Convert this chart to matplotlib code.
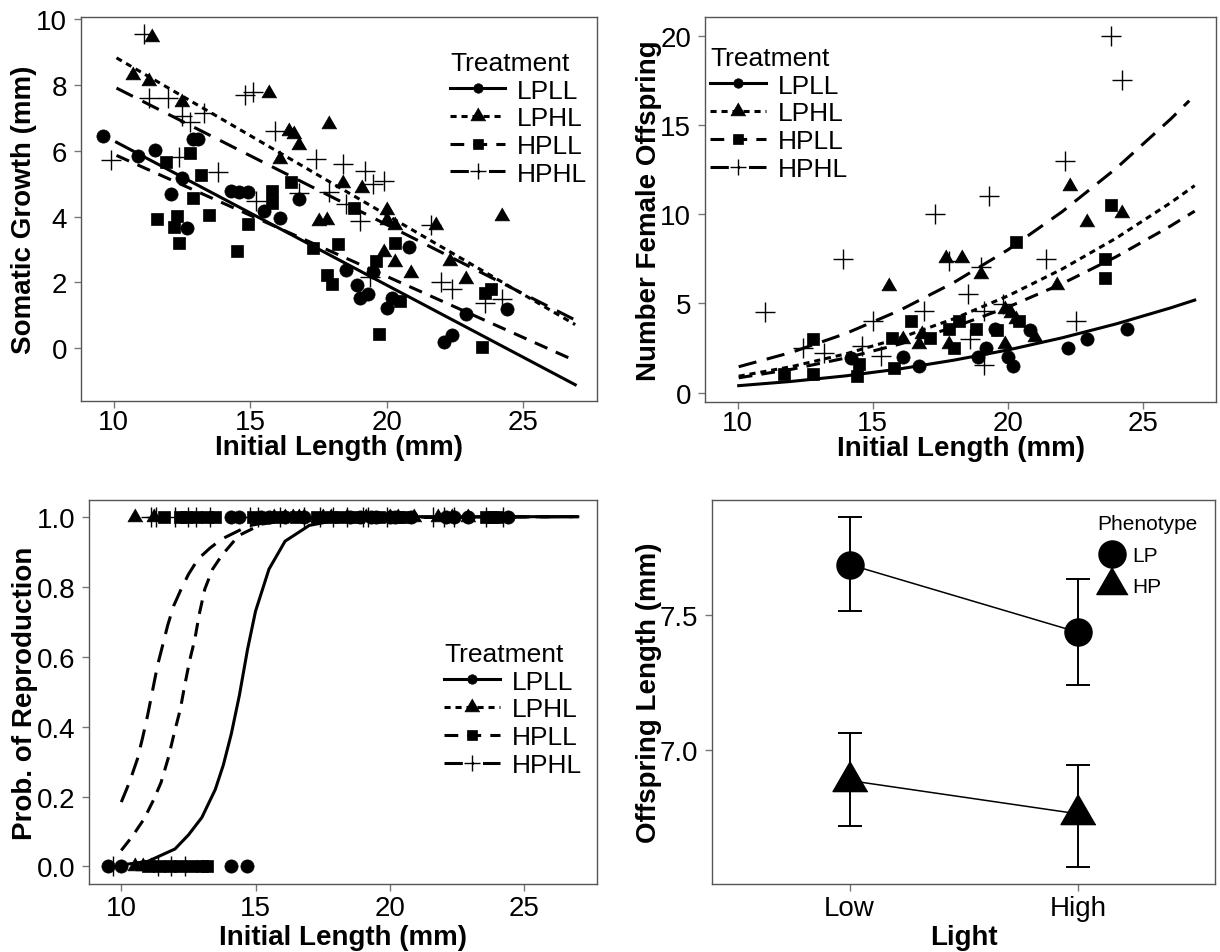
import matplotlib
matplotlib.use("Agg")
import matplotlib.pyplot as plt
from matplotlib.lines import Line2D

plt.rcParams['font.family'] = ['Liberation Sans', 'DejaVu Sans']

# ---------------- panel A : somatic growth ----------------
grow_lpll_x = [9.6, 10.9, 11.5, 12.1, 12.5, 12.7, 12.9, 13.1, 14.3, 14.6, 14.9, 15.5, 16.1,
               16.8, 18.5, 18.9, 19.0, 19.3, 19.5, 20.0, 20.2, 20.8, 22.1, 22.4, 22.9, 24.4]
grow_lpll_y = [6.44, 5.83, 6.01, 4.69, 5.18, 3.64, 6.35, 6.35, 4.77, 4.74, 4.74, 4.17, 3.96,
               4.52, 2.36, 1.93, 1.52, 1.65, 2.32, 1.22, 1.51, 3.07, 0.17, 0.38, 1.04, 1.19]
grow_lphl_x = [11.4, 10.7, 11.3, 12.5, 15.7, 16.4, 16.6, 16.8, 16.1, 17.9, 17.5, 17.8, 18.4,
               19.1, 20.0, 20.0, 19.9, 20.3, 20.3, 20.9, 21.8, 22.3, 22.9, 24.2]
grow_lphl_y = [9.46, 8.31, 8.14, 7.50, 7.76, 6.59, 6.52, 6.19, 5.74, 6.82, 3.85, 3.88, 5.02,
               4.86, 4.21, 3.88, 2.91, 3.73, 2.61, 2.27, 3.73, 2.66, 2.10, 4.03]
grow_hpll_x = [11.9, 12.8, 13.2, 12.9, 11.6, 12.3, 12.2, 12.4, 13.5, 14.5, 14.9, 15.8, 15.8,
               16.5, 17.3, 17.8, 18.0, 18.2, 18.8, 19.6, 19.7, 20.3, 20.5, 23.5, 23.6, 23.8]
grow_hpll_y = [5.65, 5.94, 5.25, 4.57, 3.93, 4.03, 3.68, 3.19, 4.05, 2.94, 3.78, 4.77, 4.42,
               5.05, 3.05, 2.22, 1.95, 3.17, 4.25, 2.64, 0.43, 3.19, 1.44, 0.02, 1.68, 1.80]
grow_hphl_x = [11.1, 9.9, 11.3, 12.0, 12.5, 12.8, 13.3, 12.4, 13.8, 14.8, 15.1, 15.2, 15.9,
               16.8, 17.4, 17.9, 18.4, 18.5, 19.0, 19.2, 19.5, 19.9, 21.6, 22.0, 22.4, 23.6,
               24.2, 19.4]
grow_hphl_y = [9.56, 5.73, 7.60, 7.60, 7.06, 6.89, 7.16, 5.81, 5.35, 7.69, 7.79, 4.46, 6.59,
               4.71, 5.74, 4.76, 5.60, 4.37, 3.85, 5.38, 4.99, 5.07, 3.73, 2.02, 1.80, 1.37,
               1.49, 2.15]
# fitted lines (end points)
grow_fit_x = [10.1, 26.9]
grow_fit_lpll = [6.26, -1.12]
grow_fit_lphl = [8.83, 0.71]
grow_fit_hpll = [5.86, -0.39]
grow_fit_hphl = [7.91, 0.85]

# ---------------- panel B : number of female offspring ----------------
off_lpll_x = [14.2, 16.1, 16.7, 19.2, 18.9, 20.0, 20.2, 19.5, 20.8, 22.2, 22.9, 24.4]
off_lpll_y = [1.96, 2.0, 1.5, 2.52, 2.02, 2.02, 1.5, 3.55, 3.5, 2.52, 3.03, 3.55]
off_lphl_x = [15.6, 17.7, 18.3, 19.0, 19.9, 20.1, 20.3, 21.8, 22.3, 22.9, 24.2, 21.0,
              19.9, 16.7, 16.1, 16.8, 17.8]
off_lphl_y = [5.98, 7.57, 7.57, 6.64, 4.67, 4.49, 4.11, 6.04, 11.59, 9.57, 10.09, 3.12,
              2.71, 2.71, 3.03, 3.27, 2.71]
off_hpll_x = [12.8, 11.7, 12.8, 14.4, 14.5, 15.8, 15.7, 16.4, 17.1, 17.8, 18.0, 18.2,
              18.8, 19.6, 20.3, 20.4, 23.6, 23.6, 23.8]
off_hpll_y = [2.99, 1.03, 1.03, 0.93, 1.59, 1.40, 3.05, 4.02, 3.08, 3.55, 2.52, 4.02,
              3.55, 3.51, 8.45, 4.02, 7.51, 6.45, 10.5]
off_hphl_x = [23.8, 24.2, 22.1, 19.3, 17.3, 13.9, 11.0, 21.4, 19.0, 18.5, 17.8, 19.8,
              19.1, 16.9, 15.0, 22.5, 12.4, 13.2, 14.6, 15.3, 18.6, 19.1]
off_hphl_y = [20.0, 17.5, 13.0, 11.0, 10.0, 7.5, 4.5, 7.5, 7.07, 5.55, 7.4, 4.99,
              4.58, 4.58, 4.02, 4.02, 2.52, 2.24, 2.62, 2.06, 2.99, 1.55]
off_fit_x = [10.04, 12, 14, 16, 18, 20, 22, 24, 26, 26.9]
off_fit_lpll = [0.40, 0.64, 0.95, 1.34, 1.83, 2.40, 3.08, 3.86, 4.75, 5.19]
off_fit_lphl = [0.93, 1.47, 2.18, 3.07, 4.15, 5.43, 6.93, 8.66, 10.63, 11.60]
off_fit_hpll = [0.84, 1.32, 1.95, 2.73, 3.68, 4.80, 6.11, 7.62, 9.33, 10.17]
off_fit_hphl_x = [10.04, 12, 14, 16, 18, 20, 22, 24, 26, 26.7]
off_fit_hphl = [1.46, 2.27, 3.32, 4.62, 6.18, 8.01, 10.14, 12.57, 15.31, 16.35]

# ---------------- panel C : probability of reproduction ----------------
rep_lpll_1 = [14.1, 14.4, 15.2, 15.5, 16.1, 16.8, 18.5, 18.9, 19.3, 19.5, 20.0, 20.2,
              20.8, 22.1, 22.4, 22.9, 24.4]
rep_lpll_0 = [9.5, 10.0, 14.1, 14.7]
rep_lphl_1 = [10.5, 11.2, 15.7, 16.1, 16.4, 16.6, 16.8, 17.5, 17.8, 18.4, 19.1, 20.0,
              20.3, 20.9, 21.8, 22.3, 22.9]
rep_lphl_0 = [10.5, 10.8, 11.1]
rep_hpll_1 = [11.6, 12.2, 12.4, 12.8, 13.2, 13.5, 14.9, 15.8, 16.5, 17.3, 17.8, 18.2,
              18.8, 19.6, 20.3, 20.5, 23.6, 23.8, 24.0]
rep_hpll_0 = [11.0, 11.4, 11.8, 12.2, 12.6, 13.0, 13.2]
rep_hphl_1 = [11.1, 11.3, 12.0, 12.5, 12.8, 13.3, 14.8, 15.1, 15.9, 16.8, 17.4, 17.9,
              18.4, 19.0, 19.2, 19.9, 21.6, 22.0, 22.4, 23.6, 24.2]
rep_hphl_0 = [9.7, 11.35, 11.85, 12.36]
rep_fit_lpll_x = [10.0, 11.0, 12.0, 12.5, 13.0, 13.5, 13.8, 14.1, 14.4, 14.7, 15.0,
                  15.5, 16.1, 17.0, 18.0, 20.0, 27.0]
rep_fit_lpll = [0.004, 0.015, 0.05, 0.09, 0.14, 0.22, 0.29, 0.38, 0.49, 0.62, 0.73,
                0.85, 0.93, 0.975, 0.99, 1.0, 1.0]
rep_fit_hpll_x = [10.0, 10.4, 10.85, 11.2, 11.48, 11.75, 11.98, 12.2, 12.36, 12.55, 12.74,
                  12.9, 13.11, 13.4, 13.74, 14.37, 15.24, 16.5, 18.0, 27.0]
rep_fit_hpll = [0.046, 0.085, 0.136, 0.19, 0.24, 0.31, 0.384, 0.45, 0.517, 0.59, 0.65,
                0.72, 0.793, 0.85, 0.889, 0.946, 0.979, 0.993, 0.998, 1.0]
rep_fit_hphl_x = [10.0, 10.3, 10.6, 10.8, 10.98, 11.17, 11.35, 11.55, 11.73, 11.95, 12.23,
                  12.5, 12.86, 13.3, 13.74, 14.74, 15.5, 17.0, 27.0]
rep_fit_hphl = [0.184, 0.24, 0.307, 0.37, 0.432, 0.505, 0.575, 0.635, 0.69, 0.745, 0.793,
                0.835, 0.879, 0.91, 0.936, 0.974, 0.985, 0.996, 1.0]

# ---------------- panel D : offspring length ----------------
light_levels = ['Low', 'High']
lp_mean = [7.685, 7.435]
lp_low = [7.512, 7.240]
lp_high = [7.860, 7.632]
hp_mean = [6.887, 6.764]
hp_low = [6.718, 6.569]
hp_high = [7.063, 6.945]

TRI = [(0, 0.577), (-0.5, -0.289), (0.5, -0.289)]
# curve line style, legend line style, marker, data marker size, legend marker size
STYLE = {
    'LPLL': dict(ls='-', lls='-', marker='o', ms=9.5, lms=6.8),
    'LPHL': dict(ls=(0, (2, 1.6)), lls=(0, (2, 1.6)), marker=TRI, ms=12.5, lms=12.5),
    'HPLL': dict(ls=(0, (4.5, 3)), lls=(0, (4.5, 3)), marker='s', ms=8.8, lms=7.2),
    'HPHL': dict(ls=(0, (6, 3.5)), lls=(0, (6, 3, 0.6, 3)), marker='+', ms=15, lms=12),
}
FS = 20
LFS = 19
LW = 2.2


def style_axes(ax, xpad):
    for s in ax.spines.values():
        s.set_color('#555555')
        s.set_linewidth(1.0)
    ax.tick_params(direction='out', length=5, width=1, color='#777777', labelsize=FS)
    ax.tick_params(axis='x', pad=xpad)
    ax.tick_params(axis='y', pad=5)


def points(ax, x, y, name):
    st = STYLE[name]
    mew = 1.0 if name == 'HPHL' else 0.5
    ax.plot(x, y, ls='none', marker=st['marker'], ms=st['ms'], color='black',
            mec='black', mew=mew)


def fit(ax, x, y, name):
    ax.plot(x, y, color='black', lw=LW, ls=STYLE[name]['ls'])


def treatment_legend(ax, anchor):
    handles = []
    for name in ['LPLL', 'LPHL', 'HPLL', 'HPHL']:
        st = STYLE[name]
        handles.append(Line2D([], [], color='black', lw=LW, ls=st['lls'],
                              marker=st['marker'], ms=st['lms'],
                              mew=1.0 if name == 'HPHL' else 0.5, label=name))
    ax.legend(handles=handles, title='Treatment', frameon=False, fontsize=LFS,
              title_fontsize=LFS, handlelength=2.1, handletextpad=0.45,
              labelspacing=0.14, borderpad=0, borderaxespad=0, alignment='left',
              numpoints=1, loc='upper left', bbox_to_anchor=anchor)


def length_axis(ax, label_y):
    ax.set_xlim(8.8, 27.7)
    ax.set_xticks([10, 15, 20, 25])
    ax.set_xlabel('Initial Length (mm)', fontsize=20, fontweight='bold')
    ax.xaxis.set_label_coords(0.5, label_y)


def main():
    fig = plt.figure(figsize=(12.2, 9.53), dpi=100)

    # panel A
    ax1 = fig.add_axes([0.0664, 0.578, 0.423, 0.403])
    fit(ax1, grow_fit_x, grow_fit_lpll, 'LPLL')
    fit(ax1, grow_fit_x, grow_fit_lphl, 'LPHL')
    fit(ax1, grow_fit_x, grow_fit_hpll, 'HPLL')
    fit(ax1, grow_fit_x, grow_fit_hphl, 'HPHL')
    points(ax1, grow_lpll_x, grow_lpll_y, 'LPLL')
    points(ax1, grow_lphl_x, grow_lphl_y, 'LPHL')
    points(ax1, grow_hpll_x, grow_hpll_y, 'HPLL')
    points(ax1, grow_hphl_x, grow_hphl_y, 'HPHL')
    length_axis(ax1, -0.086)
    ax1.set_ylim(-1.62, 10.07)
    ax1.set_yticks([0, 2, 4, 6, 8, 10])
    ax1.set_ylabel('Somatic Growth (mm)', fontsize=20, fontweight='bold')
    ax1.yaxis.set_label_coords(-0.085, 0.5)
    treatment_legend(ax1, (0.715, 0.912))
    style_axes(ax1, 1)

    # panel B
    ax2 = fig.add_axes([0.578, 0.577, 0.419, 0.404])
    fit(ax2, off_fit_x, off_fit_lpll, 'LPLL')
    fit(ax2, off_fit_x, off_fit_lphl, 'LPHL')
    fit(ax2, off_fit_x, off_fit_hpll, 'HPLL')
    fit(ax2, off_fit_hphl_x, off_fit_hphl, 'HPHL')
    points(ax2, off_lpll_x, off_lpll_y, 'LPLL')
    points(ax2, off_lphl_x, off_lphl_y, 'LPHL')
    points(ax2, off_hpll_x, off_hpll_y, 'HPLL')
    points(ax2, off_hphl_x, off_hphl_y, 'HPHL')
    length_axis(ax2, -0.086)
    ax2.set_ylim(-0.52, 21.03)
    ax2.set_yticks([0, 5, 10, 15, 20])
    ax2.set_ylabel('Number Female Offspring', fontsize=20, fontweight='bold')
    ax2.yaxis.set_label_coords(-0.085, 0.5)
    treatment_legend(ax2, (0.01, 0.925))
    style_axes(ax2, 1)

    # panel C
    ax3 = fig.add_axes([0.073, 0.0714, 0.416, 0.403])
    fit(ax3, rep_fit_lpll_x, rep_fit_lpll, 'LPLL')
    fit(ax3, rep_fit_hpll_x, rep_fit_hpll, 'HPLL')
    fit(ax3, rep_fit_hphl_x, rep_fit_hphl, 'HPHL')
    for name, ones, zeros in [('LPLL', rep_lpll_1, rep_lpll_0),
                              ('LPHL', rep_lphl_1, rep_lphl_0),
                              ('HPLL', rep_hpll_1, rep_hpll_0),
                              ('HPHL', rep_hphl_1, rep_hphl_0)]:
        points(ax3, ones, [1.0] * len(ones), name)
        points(ax3, zeros, [0.0] * len(zeros), name)
    length_axis(ax3, -0.103)
    ax3.set_ylim(-0.05, 1.048)
    ax3.set_yticks([0, 0.2, 0.4, 0.6, 0.8, 1.0])
    ax3.set_yticklabels(['0.0', '0.2', '0.4', '0.6', '0.8', '1.0'])
    ax3.set_ylabel('Prob. of Reproduction', fontsize=20, fontweight='bold')
    ax3.yaxis.set_label_coords(-0.1, 0.5)
    treatment_legend(ax3, (0.70, 0.63))
    style_axes(ax3, 3)

    # panel D
    ax4 = fig.add_axes([0.584, 0.0714, 0.412, 0.403])
    xs = [1, 2]
    ax4.errorbar(xs, lp_mean, yerr=[[m - l for m, l in zip(lp_mean, lp_low)],
                                    [h - m for m, h in zip(lp_mean, lp_high)]],
                 fmt='none', ecolor='black', elinewidth=1.4, capsize=8.3, capthick=1.4)
    ax4.errorbar(xs, hp_mean, yerr=[[m - l for m, l in zip(hp_mean, hp_low)],
                                    [h - m for m, h in zip(hp_mean, hp_high)]],
                 fmt='none', ecolor='black', elinewidth=1.4, capsize=8.3, capthick=1.4)
    ax4.plot(xs, lp_mean, color='black', lw=1.1, marker='o', ms=19.5, label='LP')
    ax4.plot(xs, hp_mean, color='black', lw=1.1, marker=TRI, ms=29, label='HP')
    ax4.set_xlim(0.4, 2.6)
    ax4.set_xticks(xs)
    ax4.set_xticklabels(light_levels)
    ax4.set_ylim(6.505, 7.924)
    ax4.set_yticks([7.0, 7.5])
    ax4.set_yticklabels(['7.0', '7.5'])
    ax4.set_xlabel('Light', fontsize=20, fontweight='bold')
    ax4.xaxis.set_label_coords(0.5, -0.103)
    ax4.set_ylabel('Offspring Length (mm)', fontsize=20, fontweight='bold')
    ax4.yaxis.set_label_coords(-0.1, 0.5)
    h = [Line2D([], [], ls='none', marker='o', ms=19.5, color='black', label='LP'),
         Line2D([], [], ls='none', marker=TRI, ms=26, color='black', label='HP')]
    ax4.legend(handles=h, title='Phenotype', frameon=False, fontsize=15, title_fontsize=15,
               loc='upper left', bbox_to_anchor=(0.765, 0.962), handletextpad=0.25,
               labelspacing=0.6, borderpad=0, borderaxespad=0, alignment='left',
               handlelength=1.45)
    style_axes(ax4, 3)

    fig.savefig('out.png', dpi=100)


if __name__ == "__main__":
    main()
